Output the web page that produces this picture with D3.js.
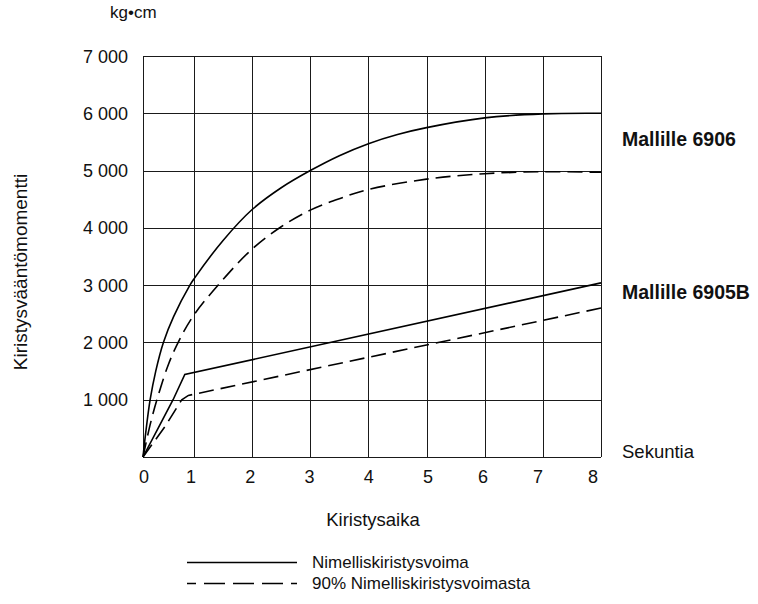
<!DOCTYPE html>
<html>
<head>
<meta charset="utf-8">
<script src="https://d3js.org/d3.v7.min.js"></script>
<style>
body { margin: 0; background: #fff; }
text { font-family: "Liberation Sans", Arial, sans-serif; fill: #111; }
.grid line { stroke: #1a1a1a; stroke-width: 1; shape-rendering: crispEdges; }
.curve { fill: none; stroke: #000; stroke-width: 1.6; }
.dashed { stroke-dasharray: 15,7; }
</style>
</head>
<body>
<script>

// x ticks (seconds) and y ticks (kg•cm)
var xTicks = [0, 1, 2, 3, 4, 5, 6, 7, 8];
var yTicks = [0, 1000, 2000, 3000, 4000, 5000, 6000, 7000];

// Mallille 6906
var t6906 = [0, 0.05, 0.14, 0.25, 0.4, 0.6, 0.92, 1, 1.5, 2, 2.5, 3, 3.5, 4, 4.5, 5, 6, 7, 8];
var full6906 = [0, 400, 1000, 1500, 2000, 2450, 3000, 3110, 3780, 4320, 4700, 5000, 5260, 5470, 5630, 5750, 5920, 5990, 6000];
var t6906b = [0, 0.15, 0.3, 0.5, 0.7, 1, 1.5, 2, 2.5, 3, 3.5, 4, 5, 6, 7, 8];
var ninety6906 = [0, 600, 1080, 1620, 2020, 2480, 3100, 3630, 4020, 4310, 4510, 4670, 4850, 4945, 4980, 4970];

// Mallille 6905B
var t6905 = [0, 0.3, 0.59, 0.82, 8];
var full6905 = [0, 510, 1000, 1440, 3040];
var t6905b = [0, 0.43, 0.76, 0.89, 8];
var ninety6905 = [0, 530, 1000, 1075, 2600];

var W = 758, H = 604;

var svg = d3.select("body").append("svg")
    .attr("width", W)
    .attr("height", H);

// the printed grid has a narrower first second
var x = d3.scaleLinear()
    .domain([0, 1, 8])
    .range([143, 194, 601]);

// tick numbers are not printed exactly under the grid lines
var xLabel = d3.scaleLinear()
    .domain([0, 1, 5, 8])
    .range([144, 191, 428, 593]);

var y = d3.scaleLinear()
    .domain([0, 7000])
    .range([457, 56]);

function px(v) { return Math.round(v) + 0.5; }

var grid = svg.append("g").attr("class", "grid");

grid.selectAll(".v")
    .data(xTicks)
  .enter().append("line")
    .attr("x1", function(d) { return px(x(d)) })
    .attr("x2", function(d) { return px(x(d)) })
    .attr("y1", y(7000))
    .attr("y2", y(0));

grid.selectAll(".h")
    .data(yTicks)
  .enter().append("line")
    .attr("x1", x(0))
    .attr("x2", x(8))
    .attr("y1", function(d) { return px(y(d)) })
    .attr("y2", function(d) { return px(y(d)) });

// tick labels
svg.selectAll(".ylab")
    .data(yTicks.slice(1))
  .enter().append("text")
    .attr("x", 128)
    .attr("y", function(d) { return y(d) + 6.5 })
    .attr("text-anchor", "end")
    .style("font-size", "18px")
    .text(function(d) { return d3.format(",")(d).replace(",", " ") });

svg.selectAll(".xlab")
    .data(xTicks)
  .enter().append("text")
    .attr("x", function(d) { return xLabel(d) })
    .attr("y", 483)
    .attr("text-anchor", "middle")
    .style("font-size", "18px")
    .text(function(d) { return d });

var line = d3.line()
    .x(function(d) { return x(d[0]) })
    .y(function(d) { return y(d[1]) });

function pairs(ts, vs) { return ts.map(function(t, i) { return [t, vs[i]] }) }

svg.append("path")
    .attr("class", "curve")
    .attr("d", line.curve(d3.curveCatmullRom.alpha(0.5))(pairs(t6906, full6906)));

svg.append("path")
    .attr("class", "curve dashed")
    .attr("d", line.curve(d3.curveCatmullRom.alpha(0.5))(pairs(t6906b, ninety6906)));

svg.append("path")
    .attr("class", "curve")
    .attr("d", line.curve(d3.curveLinear)(pairs(t6905, full6905)));

svg.append("path")
    .attr("class", "curve dashed")
    .attr("d", line.curve(d3.curveLinear)(pairs(t6905b, ninety6905)));

// labels
svg.append("text")
    .attr("x", 110).attr("y", 18)
    .style("font-size", "17px")
    .text("kg•cm");

svg.append("text")
    .attr("transform", "translate(27,272) rotate(-90)")
    .attr("text-anchor", "middle")
    .style("font-size", "19px")
    .text("Kiristysvääntömomentti");

svg.append("text")
    .attr("x", 373).attr("y", 526)
    .attr("text-anchor", "middle")
    .style("font-size", "18.5px")
    .text("Kiristysaika");

svg.append("text")
    .attr("x", 622).attr("y", 458)
    .style("font-size", "18.5px")
    .text("Sekuntia");

svg.append("text")
    .attr("x", 622).attr("y", 146)
    .style("font-size", "19.5px")
    .style("font-weight", "bold")
    .text("Mallille 6906");

svg.append("text")
    .attr("x", 622).attr("y", 299)
    .style("font-size", "19.5px")
    .style("font-weight", "bold")
    .text("Mallille 6905B");

// legend
var legend = svg.append("g");

legend.append("line")
    .attr("class", "curve")
    .attr("x1", 187).attr("x2", 297)
    .attr("y1", 562.5).attr("y2", 562.5);

legend.append("line")
    .attr("class", "curve")
    .style("stroke-dasharray", "21,8")
    .style("stroke-dashoffset", 12)
    .attr("x1", 187).attr("x2", 297)
    .attr("y1", 583.5).attr("y2", 583.5);

legend.append("text")
    .attr("x", 312).attr("y", 568)
    .style("font-size", "17px")
    .text("Nimelliskiristysvoima");

legend.append("text")
    .attr("x", 312).attr("y", 589)
    .style("font-size", "17px")
    .text("90% Nimelliskiristysvoimasta");

</script>
</body>
</html>
